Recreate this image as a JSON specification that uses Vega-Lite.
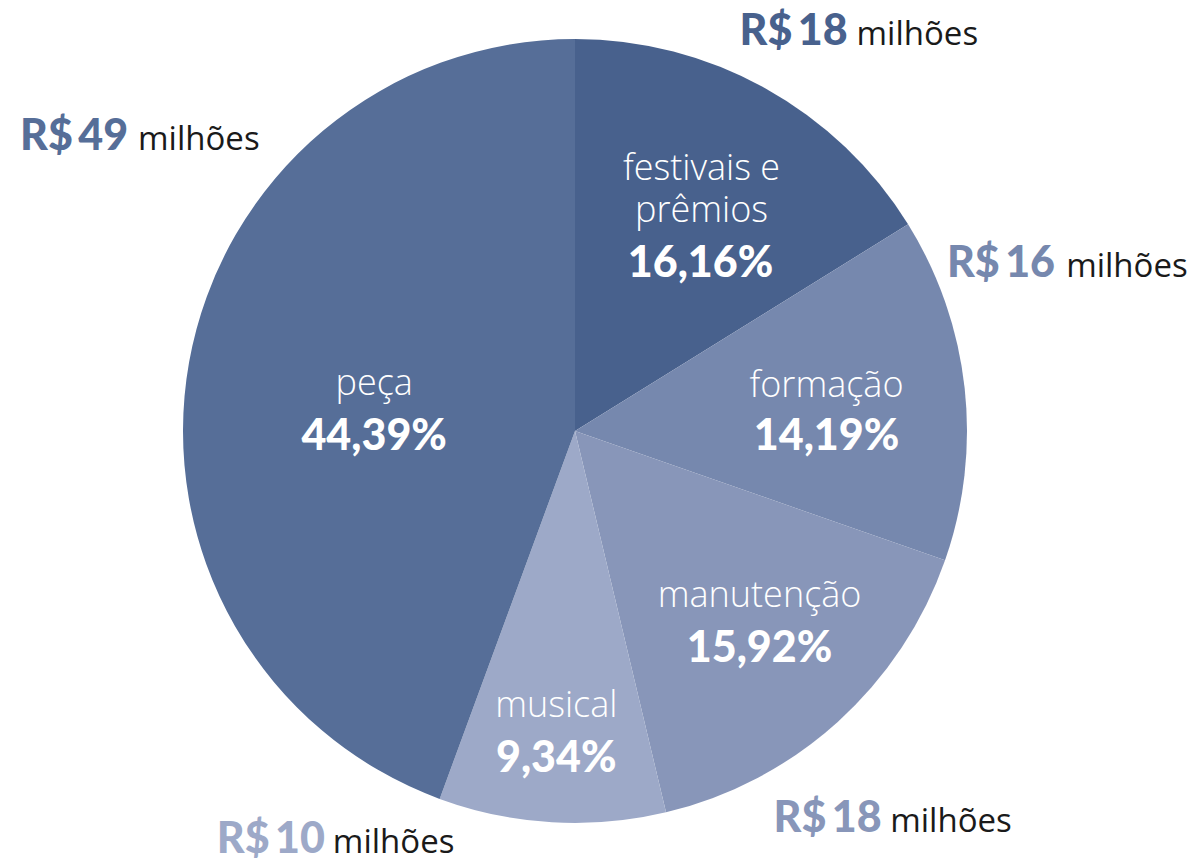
{
  "$schema": "https://vega.github.io/schema/vega-lite/v6.json",
  "width": 1150,
  "height": 862,
  "autosize": "none",
  "padding": {"left": 0, "top": 0, "right": 42, "bottom": 1},
  "background": "white",
  "config": {
    "view": {"stroke": null},
    "locale": {"number": {"decimal": ",", "thousands": ".", "grouping": [3], "currency": ["R$\u2009", ""]}}
  },
  "data": {
    "values": [
      {"categoria": "festivais e prêmios", "nome": "festivais e\nprêmios", "valor": 0.1616, "milhoes": 18, "unidade": "milhões", "ordem": 1},
      {"categoria": "formação", "nome": "formação", "valor": 0.1419, "milhoes": 16, "unidade": "milhões", "ordem": 2},
      {"categoria": "manutenção", "nome": "manutenção", "valor": 0.1592, "milhoes": 18, "unidade": "milhões", "ordem": 3},
      {"categoria": "musical", "nome": "musical", "valor": 0.0934, "milhoes": 10, "unidade": "milhões", "ordem": 4},
      {"categoria": "peça", "nome": "peça", "valor": 0.4439, "milhoes": 49, "unidade": "milhões", "ordem": 5}
    ]
  },
  "encoding": {
    "theta": {"field": "valor", "type": "quantitative", "stack": true},
    "order": {"field": "ordem", "type": "quantitative"},
    "detail": {"field": "categoria", "type": "nominal"}
  },
  "layer": [
    {
      "mark": {"type": "arc", "outerRadius": 392},
      "encoding": {
        "color": {"field": "categoria", "type": "nominal", "legend": null,
          "scale": {"domain": ["festivais e prêmios", "formação", "manutenção", "musical", "peça"],
                    "range": ["#48618d", "#7688ae", "#8896b9", "#9da9c8", "#566e98"]}}
      }
    },
    {"mark": {"type": "text", "radius": 250, "dx": 5, "dy": -33, "align": "center", "baseline": "alphabetic", "font": "Open Sans", "fontWeight": 300, "fontSize": 36, "lineBreak": "\n", "lineHeight": 42, "fill": "white"},
     "encoding": {"text": {"condition": {"test": "datum.ordem === 1", "field": "nome", "type": "nominal"}, "value": ""}}},
    {"mark": {"type": "text", "radius": 250, "dx": 3, "dy": -7, "align": "center", "baseline": "alphabetic", "font": "Open Sans", "fontWeight": 300, "fontSize": 36, "fill": "white"},
     "encoding": {"text": {"condition": {"test": "datum.ordem === 2", "field": "nome", "type": "nominal"}, "value": ""}}},
    {"mark": {"type": "text", "radius": 250, "dx": 17, "dy": -9.5, "align": "center", "baseline": "alphabetic", "font": "Open Sans", "fontWeight": 300, "fontSize": 36, "fill": "white"},
     "encoding": {"text": {"condition": {"test": "datum.ordem === 3", "field": "nome", "type": "nominal"}, "value": ""}}},
    {"mark": {"type": "text", "radius": 300, "dx": -1, "dy": -13.5, "align": "center", "baseline": "alphabetic", "font": "Open Sans", "fontWeight": 300, "fontSize": 36, "fill": "white"},
     "encoding": {"text": {"condition": {"test": "datum.ordem === 4", "field": "nome", "type": "nominal"}, "value": ""}}},
    {"mark": {"type": "text", "radius": 205, "dx": 1, "dy": 0, "align": "center", "baseline": "alphabetic", "font": "Open Sans", "fontWeight": 300, "fontSize": 36, "fill": "white"},
     "encoding": {"text": {"condition": {"test": "datum.ordem === 5", "field": "nome", "type": "nominal"}, "value": ""}}},

    {"mark": {"type": "text", "radius": 250, "dx": 4, "dy": 64, "align": "center", "baseline": "alphabetic", "font": "Lato", "fontWeight": 900, "fontSize": 43, "fill": "white"},
     "encoding": {"text": {"condition": {"test": "datum.ordem === 1", "field": "valor", "type": "quantitative", "format": ".2%"}, "value": ""}}},
    {"mark": {"type": "text", "radius": 250, "dx": 3, "dy": 46, "align": "center", "baseline": "alphabetic", "font": "Lato", "fontWeight": 900, "fontSize": 43, "fill": "white"},
     "encoding": {"text": {"condition": {"test": "datum.ordem === 2", "field": "valor", "type": "quantitative", "format": ".2%"}, "value": ""}}},
    {"mark": {"type": "text", "radius": 250, "dx": 17, "dy": 45.5, "align": "center", "baseline": "alphabetic", "font": "Lato", "fontWeight": 900, "fontSize": 43, "fill": "white"},
     "encoding": {"text": {"condition": {"test": "datum.ordem === 3", "field": "valor", "type": "quantitative", "format": ".2%"}, "value": ""}}},
    {"mark": {"type": "text", "radius": 300, "dx": -1, "dy": 41.5, "align": "center", "baseline": "alphabetic", "font": "Lato", "fontWeight": 900, "fontSize": 43, "fill": "white"},
     "encoding": {"text": {"condition": {"test": "datum.ordem === 4", "field": "valor", "type": "quantitative", "format": ".2%"}, "value": ""}}},
    {"mark": {"type": "text", "radius": 205, "dx": 1, "dy": 55, "align": "center", "baseline": "alphabetic", "font": "Lato", "fontWeight": 900, "fontSize": 43, "fill": "white"},
     "encoding": {"text": {"condition": {"test": "datum.ordem === 5", "field": "valor", "type": "quantitative", "format": ".2%"}, "value": ""}}},

    {"mark": {"type": "text", "radius": 392, "dx": 82, "dy": -43.5, "align": "right", "baseline": "alphabetic", "font": "Lato", "fontWeight": 900, "fontSize": 43},
     "encoding": {"color": {"field": "categoria", "type": "nominal", "legend": null},
                  "text": {"condition": {"test": "datum.ordem === 1", "field": "milhoes", "type": "quantitative", "format": "$.0f"}, "value": ""}}},
    {"mark": {"type": "text", "radius": 392, "dx": 90.4, "dy": -111, "align": "right", "baseline": "alphabetic", "font": "Lato", "fontWeight": 900, "fontSize": 43},
     "encoding": {"color": {"field": "categoria", "type": "nominal", "legend": null},
                  "text": {"condition": {"test": "datum.ordem === 2", "field": "milhoes", "type": "quantitative", "format": "$.0f"}, "value": ""}}},
    {"mark": {"type": "text", "radius": 392, "dx": 44, "dy": 110, "align": "right", "baseline": "alphabetic", "font": "Lato", "fontWeight": 900, "fontSize": 43},
     "encoding": {"color": {"field": "categoria", "type": "nominal", "legend": null},
                  "text": {"condition": {"test": "datum.ordem === 3", "field": "milhoes", "type": "quantitative", "format": "$.0f"}, "value": ""}}},
    {"mark": {"type": "text", "radius": 392, "dx": -227, "dy": 31, "align": "right", "baseline": "alphabetic", "font": "Lato", "fontWeight": 900, "fontSize": 43},
     "encoding": {"color": {"field": "categoria", "type": "nominal", "legend": null},
                  "text": {"condition": {"test": "datum.ordem === 4", "field": "milhoes", "type": "quantitative", "format": "$.0f"}, "value": ""}}},
    {"mark": {"type": "text", "radius": 392, "dx": -61, "dy": -212, "align": "right", "baseline": "alphabetic", "font": "Lato", "fontWeight": 900, "fontSize": 43},
     "encoding": {"color": {"field": "categoria", "type": "nominal", "legend": null},
                  "text": {"condition": {"test": "datum.ordem === 5", "field": "milhoes", "type": "quantitative", "format": "$.0f"}, "value": ""}}},

    {"mark": {"type": "text", "radius": 392, "dx": 91, "dy": -43.5, "align": "left", "baseline": "alphabetic", "font": "Open Sans", "fontWeight": 400, "fontSize": 33, "fill": "#1a1a1a"},
     "encoding": {"text": {"condition": {"test": "datum.ordem === 1", "field": "unidade", "type": "nominal"}, "value": ""}}},
    {"mark": {"type": "text", "radius": 392, "dx": 101.5, "dy": -111, "align": "left", "baseline": "alphabetic", "font": "Open Sans", "fontWeight": 400, "fontSize": 33, "fill": "#1a1a1a"},
     "encoding": {"text": {"condition": {"test": "datum.ordem === 2", "field": "unidade", "type": "nominal"}, "value": ""}}},
    {"mark": {"type": "text", "radius": 392, "dx": 52.5, "dy": 110, "align": "left", "baseline": "alphabetic", "font": "Open Sans", "fontWeight": 400, "fontSize": 33, "fill": "#1a1a1a"},
     "encoding": {"text": {"condition": {"test": "datum.ordem === 3", "field": "unidade", "type": "nominal"}, "value": ""}}},
    {"mark": {"type": "text", "radius": 392, "dx": -219, "dy": 31, "align": "left", "baseline": "alphabetic", "font": "Open Sans", "fontWeight": 400, "fontSize": 33, "fill": "#1a1a1a"},
     "encoding": {"text": {"condition": {"test": "datum.ordem === 4", "field": "unidade", "type": "nominal"}, "value": ""}}},
    {"mark": {"type": "text", "radius": 392, "dx": -51, "dy": -212, "align": "left", "baseline": "alphabetic", "font": "Open Sans", "fontWeight": 400, "fontSize": 33, "fill": "#1a1a1a"},
     "encoding": {"text": {"condition": {"test": "datum.ordem === 5", "field": "unidade", "type": "nominal"}, "value": ""}}}
  ]
}
